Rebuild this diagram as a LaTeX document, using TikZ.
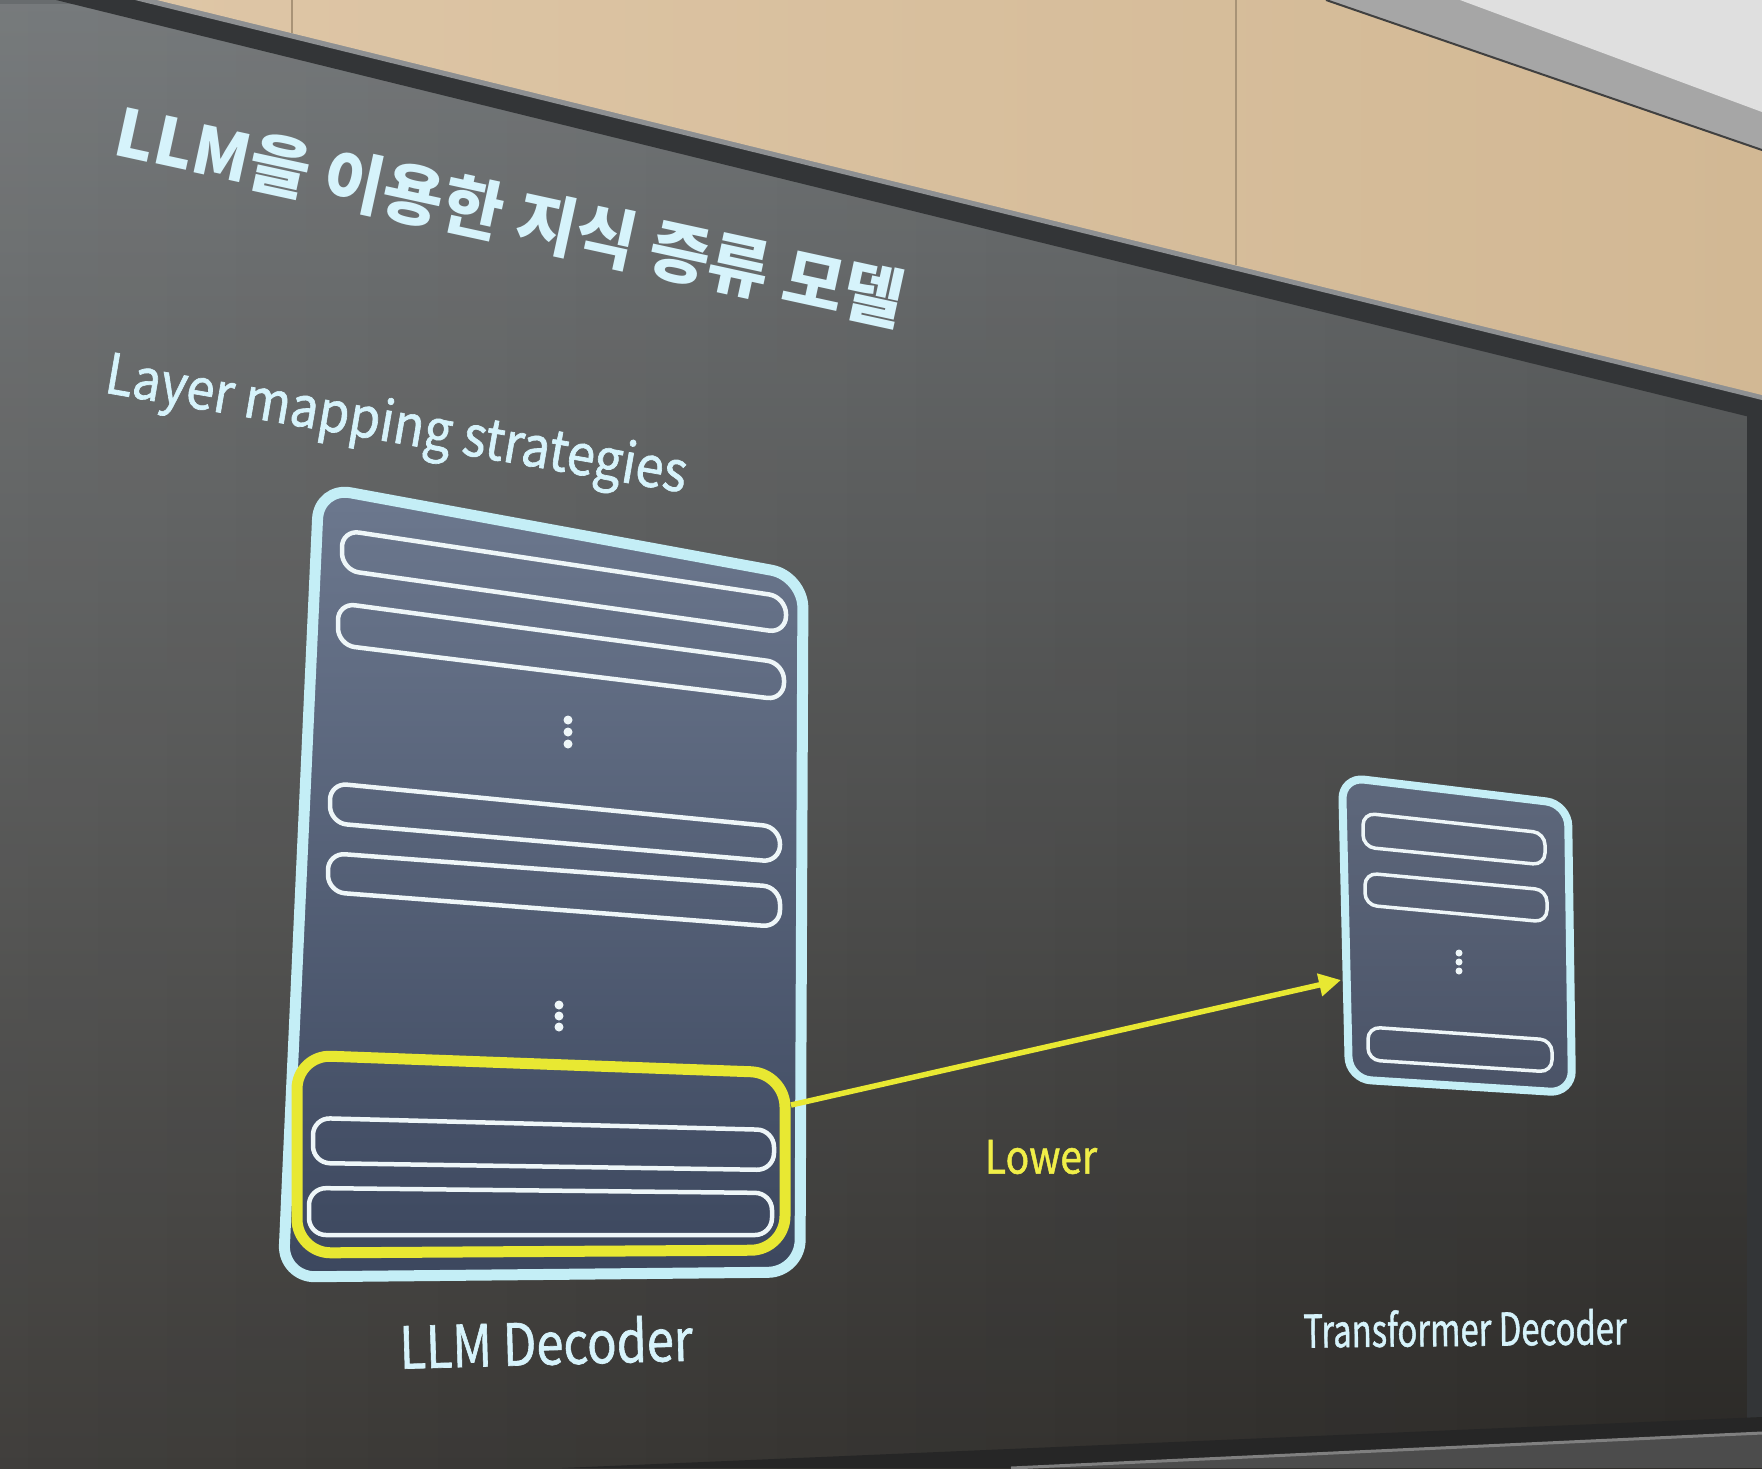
\documentclass[tikz,border=0pt]{standalone}
\usepackage{fontspec}
\setmainfont{Noto Sans CJK KR}
\newfontfamily\medfont[FakeBold=1.2]{Noto Sans CJK KR}
\usetikzlibrary{arrows.meta,fadings}
\definecolor{wood}{HTML}{DEC6A6}
\definecolor{woodd}{HTML}{D2B894}
\definecolor{bezel}{HTML}{8E9092}
\definecolor{bezeld}{HTML}{333537}
\definecolor{scrtop}{HTML}{686C6E}
\definecolor{scrmid}{HTML}{444546}
\definecolor{scrbot}{HTML}{2B2926}
\definecolor{cyanedge}{HTML}{C4EEF6}
\definecolor{boxtop}{HTML}{6C788E}
\definecolor{boxbot}{HTML}{3C475E}
\definecolor{sboxtop}{HTML}{5E687C}
\definecolor{sboxbot}{HTML}{4A5367}
\definecolor{barline}{HTML}{EEF6F8}
\definecolor{yel}{HTML}{E8E832}
\definecolor{titlec}{HTML}{D6F3FB}
\definecolor{lowerc}{HTML}{F0EE48}
\tikzset{
  bigbox/.style={draw=cyanedge, line width=11pt, rounded corners=32pt, top color=boxtop, bottom color=boxbot},
  smallbox/.style={draw=cyanedge, line width=8pt, rounded corners=22pt, top color=sboxtop, bottom color=sboxbot},
  layerbar/.style={draw=barline, line width=4.5pt, rounded corners=17pt},
  slayerbar/.style={draw=barline, line width=3.5pt, rounded corners=12pt},
  ybox/.style={draw=yel, line width=11pt, rounded corners=34pt},
  dotm/.style={fill=barline},
  yarrow/.style={draw=yel, line width=5.5pt, -{Triangle[length=22pt,width=22pt]}},
  lbl/.style={inner sep=0pt, text=titlec},
}
\begin{document}
\begin{tikzpicture}[x=1pt,y=-1pt]
\useasboundingbox (0,0) rectangle (1762,1468);
% screen background
\shade[top color=scrtop, middle color=scrmid, bottom color=scrbot] (0,0) rectangle (1762,1468);
\fill[white, path fading=east, fill opacity=0.10] (0,0) rectangle (1762,1468);
% wall and bezel
\fill[bezeld] (56,0) -- (1762,0) -- (1762,420) -- cycle;
\fill[bezel] (135,0) -- (1762,0) -- (1762,400) -- cycle;
\shade[left color=wood, right color=woodd] (157,0) -- (1762,0) -- (1762,395) -- cycle;
\draw[woodd!80!black, line width=1.5pt] (1236,0) -- (1236,265);
\draw[woodd!80!black, line width=1.2pt] (292,0) -- (292,33);
% ceiling fixture
\fill[gray!70] (1326,0) -- (1762,0) -- (1762,150) -- cycle;
\fill[gray!25] (1460,0) -- (1762,0) -- (1762,112) -- cycle;
\draw[gray!50!black, line width=2pt] (1326,0) -- (1762,150);
% right and bottom bezel
\fill[bezeld] (1747,410) -- (1762,410) -- (1762,1468) -- (1747,1468) -- cycle;
\fill[black!85] (562,1468) -- (1762,1417) -- (1762,1468) -- cycle;
\fill[black!70] (1011,1468) -- (1762,1433) -- (1762,1468) -- cycle;
\draw[gray, line width=3pt] (1011,1468) -- (1762,1433);
% texts
\node[lbl, rotate=-12.3, font=\fontsize{66}{72}\selectfont\bfseries] (title) at (510,216) {LLM을 이용한 지식 증류 모델};
\node[lbl, rotate=-9.8, font=\fontsize{56}{60}\selectfont\medfont] (sub) at (396,428) {\scalebox{0.9}[1]{Layer mapping strategies}};
% LLM decoder
\path[bigbox] (319,487) -- (803,576) -- (800,1272) -- (283,1277) -- cycle;
\path[layerbar] (342,530) -- (786,597) -- (786,633) -- (342,570) -- cycle;
\path[layerbar] (338,603) -- (784,663) -- (784,700) -- (338,645) -- cycle;
\fill[dotm] (568,720) circle (4.5pt) (568,732) circle (4.5pt) (568,744) circle (4.5pt);
\path[layerbar] (330,783) -- (780,827) -- (780,862) -- (330,823) -- cycle;
\path[layerbar] (328,853) -- (780,887) -- (780,927) -- (328,892) -- cycle;
\fill[dotm] (559,1005) circle (4.5pt) (559,1016) circle (4.5pt) (559,1027) circle (4.5pt);
\path[ybox] (297,1055) -- (785,1073) -- (785,1250) -- (297,1253) -- cycle;
\path[layerbar] (313,1118) -- (774,1130) -- (774,1170) -- (313,1163) -- cycle;
\path[layerbar] (309,1188) -- (772,1193) -- (772,1235) -- (309,1235) -- cycle;
\coordinate (ystart) at (791,1105);
% transformer decoder
\path[smallbox] (1342,777) -- (1568,804) -- (1572,1093) -- (1349,1079) -- cycle;
\path[slayerbar] (1363,813) -- (1545,833) -- (1545,865) -- (1363,847) -- cycle;
\path[slayerbar] (1365,873) -- (1547,890) -- (1547,922) -- (1365,905) -- cycle;
\fill[dotm] (1459,953) circle (3.5pt) (1459,962) circle (3.5pt) (1459,971) circle (3.5pt);
\path[slayerbar] (1368,1027) -- (1552,1040) -- (1552,1072) -- (1368,1060) -- cycle;
\coordinate (send) at (1341,980);
% arrow
\draw[yarrow] (ystart) -- (send);
% labels
\node[lbl, text=lowerc, font=\fontsize{46}{50}\selectfont\medfont] (lower) at (1041,1157) {\scalebox{0.85}[1]{Lower}};
\node[lbl, rotate=1.6, font=\fontsize{58}{62}\selectfont\medfont] (llmlbl) at (546,1342) {\scalebox{0.84}[1]{LLM Decoder}};
\node[lbl, rotate=0.6, font=\fontsize{45}{50}\selectfont\medfont] (tflbl) at (1465,1328) {\scalebox{0.73}[1]{Transformer Decoder}};
\end{tikzpicture}
\end{document}
